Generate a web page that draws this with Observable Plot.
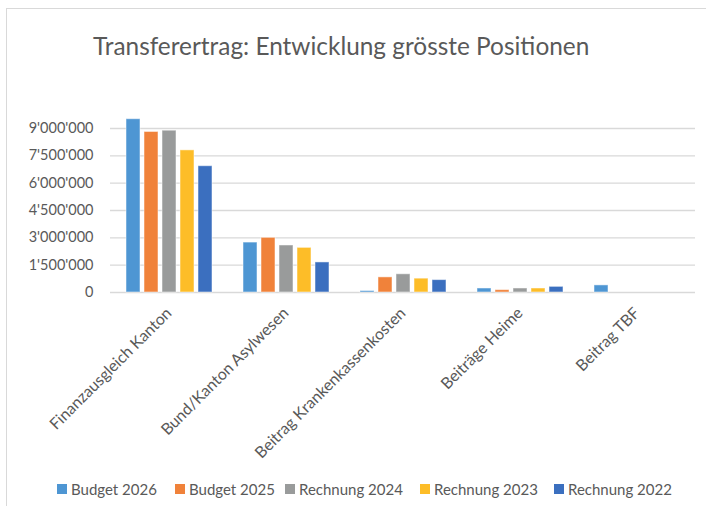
<!DOCTYPE html>
<html>
<head>
<meta charset="utf-8">
<script src="https://cdn.jsdelivr.net/npm/d3@7"></script>
<script src="https://cdn.jsdelivr.net/npm/@observablehq/plot@0.6"></script>
<style>
  html, body { margin: 0; padding: 0; background: #fff; }
  #wrap { position: relative; width: 706px; height: 506px; overflow: hidden; font-family: Lato, "Noto Sans", sans-serif; color: #595959; }
  #frame { position: absolute; left: 6px; top: 8px; width: 720px; height: 520px; border: 1px solid #d9d9d9; box-sizing: border-box; }
  #title { position: absolute; left: 93px; top: 31px; font-size: 24.4px; white-space: nowrap; }
  #chart { position: absolute; left: 0; top: 100px; }
  #chart svg g[aria-label^="fx-axis"] text { font-size: 15.9px; }
  .leg { position: absolute; top: 480px; font-size: 15px; white-space: nowrap; display: flex; align-items: center; }
  .leg span.sw { display: inline-block; width: 10px; height: 10px; margin-right: 4px; }
</style>
</head>
<body>
<div id="wrap">
  <div id="frame"></div>
  <div id="title">Transferertrag: Entwicklung grösste Positionen</div>
  <div id="chart"></div>
  <div id="legend"></div>
</div>
<script>
const categories = ["Finanzausgleich Kanton", "Bund/Kanton Asylwesen", "Beitrag Krankenkassenkosten", "Beiträge Heime", "Beitrag TBF"];
const series = ["Budget 2026", "Budget 2025", "Rechnung 2024", "Rechnung 2023", "Rechnung 2022"];
const budget2026 = [9510000, 2740000, 80000, 220000, 390000];
const budget2025 = [8810000, 3000000, 830000, 130000, 0];
const rechnung2024 = [8880000, 2580000, 1000000, 220000, 0];
const rechnung2023 = [7800000, 2450000, 760000, 220000, 0];
const rechnung2022 = [6930000, 1650000, 680000, 310000, 0];
const yTicks = [0, 1500000, 3000000, 4500000, 6000000, 7500000, 9000000];
const colors = ["#4e96d3", "#f0823a", "#999b9b", "#fdbd28", "#3b6fbf"];
const legendLeft = [57, 175, 285, 420, 554];

const valuesBySeries = [budget2026, budget2025, rechnung2024, rechnung2023, rechnung2022];
const rows = [];
categories.forEach((c, i) => {
  series.forEach((s, j) => {
    rows.push({category: c, series: s, value: valuesBySeries[j][i]});
  });
});

const fmt = d => d3.format(",")(d).replace(/,/g, "'");

const chart = Plot.plot({
  width: 706,
  height: 370,
  marginLeft: 110,
  marginRight: 11,
  marginTop: 28,
  marginBottom: 178,
  style: {fontFamily: "Lato, 'Noto Sans', sans-serif", fontSize: "14.5px", color: "#595959", background: "transparent"},
  facet: {data: rows, x: "category"},
  fx: {domain: categories, padding: 0, label: null, axis: "bottom", tickRotate: -45, tickSize: 0, tickPadding: 18},
  x: {domain: series, axis: null, paddingInner: 0.235, paddingOuter: 0.81},
  y: {domain: [0, 9000000], ticks: yTicks, tickFormat: fmt, tickSize: 0, tickPadding: 17, label: null},
  color: {domain: series, range: colors},
  marks: [
    Plot.ruleY(yTicks, {stroke: "#d9d9d9", strokeWidth: 1.3}),
    Plot.barY(rows, {x: "series", y: "value", fill: "series", stroke: "#ffffff", strokeOpacity: 0.5, strokeWidth: 1})
  ]
});
document.getElementById("chart").appendChild(chart);

const legend = document.getElementById("legend");
series.forEach((s, i) => {
  const item = document.createElement("div");
  item.className = "leg";
  item.style.left = legendLeft[i] + "px";
  const sw = document.createElement("span");
  sw.className = "sw";
  sw.style.background = colors[i];
  item.appendChild(sw);
  item.appendChild(document.createTextNode(s));
  legend.appendChild(item);
});
</script>
</body>
</html>
